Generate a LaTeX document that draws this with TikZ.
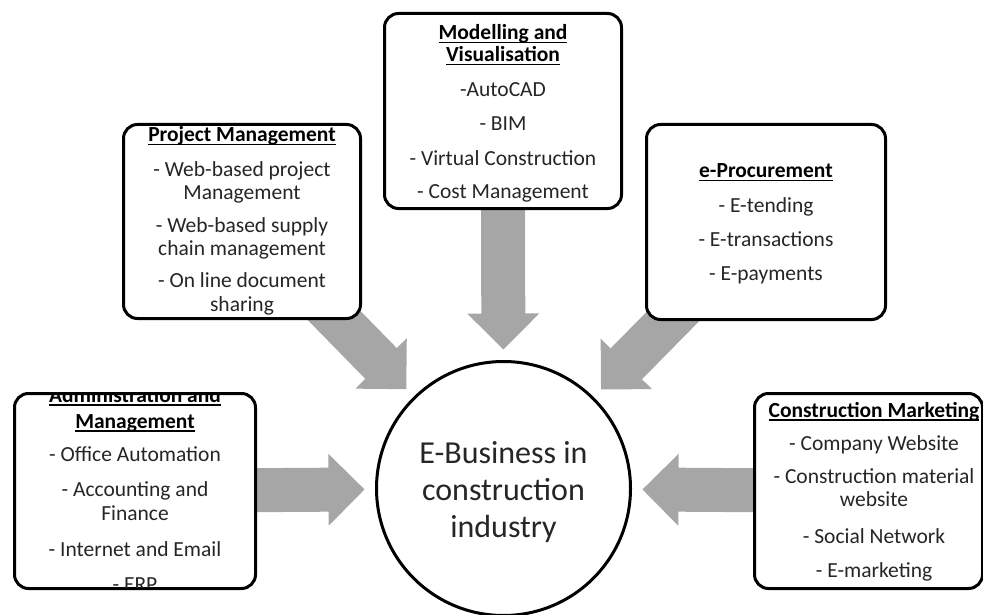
\documentclass[tikz,border=0pt]{standalone}
\usepackage{fontspec}
\setmainfont{Carlito}
\usetikzlibrary{calc,backgrounds}
\definecolor{arrowgray}{HTML}{A6A6A6}
\definecolor{txt}{HTML}{262626}
\newcommand\hd[1]{{\bfseries\color{black}\setbox0=\hbox{#1}\rlap{\rule[-3.5pt]{\wd0}{1.6pt}}\box0}}
% block arrow from the centre of node #1 towards the hub (ebiz)
\newcommand\blockarr[1]{%
  \fill[arrowgray]
    ($(#1.center)!22pt!90:(ebiz.center)$) --
    ($($(ebiz.center)!175pt!(#1.center)$)!22pt!-90:(#1.center)$) --
    ($($(ebiz.center)!175pt!(#1.center)$)!36pt!-90:(#1.center)$) --
    ($(ebiz.center)!139pt!(#1.center)$) --
    ($($(ebiz.center)!175pt!(#1.center)$)!36pt!90:(#1.center)$) --
    ($($(ebiz.center)!175pt!(#1.center)$)!22pt!90:(#1.center)$) --
    ($(#1.center)!22pt!-90:(ebiz.center)$) -- cycle;}
\begin{document}
\begin{tikzpicture}[x=1pt,y=-1pt,
  box/.style={draw=black, line width=3pt, fill=white, rounded corners=14pt, inner sep=0pt, outer sep=0pt},
  hub/.style={circle, draw=black, line width=3pt, fill=white, inner sep=0pt, outer sep=0pt, minimum size=254pt},
  line/.style={anchor=base, inner sep=0pt, font=\fontsize{21.5}{23}\selectfont, text=txt},
  hubline/.style={anchor=base, inner sep=0pt, font=\fontsize{32}{37}\selectfont, text=txt}
]
\useasboundingbox (0,0) rectangle (983,615);

% boxes and hub
\node[box, minimum width=237pt, minimum height=194pt] (pm) at (242,221.5) {};
\node[box, minimum width=237pt, minimum height=195pt] (mv) at (503,111) {};
\node[box, minimum width=239pt, minimum height=195pt] (ep) at (766,222) {};
\node[box, minimum width=241pt, minimum height=195pt] (adm) at (135,491) {};
\node[box, minimum width=228pt, minimum height=195pt] (cm) at (868.5,491) {};
\node[hub] (ebiz) at (503.5,488.5) {};

% hub text
\foreach \t/\y [count=\i] in {E-Business in/463, construction/500, industry/537}
  \node[hubline] (ebiz-\i) at (503.5,\y) {\t};

% Project Management
\begin{scope}
\clip[rounded corners=12.5pt] ([shift={(1.5,-1.5)}]pm.south west) rectangle ([shift={(-1.5,1.5)}]pm.north east);
\foreach \t/\y [count=\i] in {{\hd{Project Management}}/142, - Web-based project/177, Management/200, - Web-based supply/232, chain management/255, - On line document/287, sharing/311}
  \node[line] (pm-\i) at (242,\y) {\t};
\end{scope}

% Modelling and Visualisation
\begin{scope}
\clip[rounded corners=12.5pt] ([shift={(1.5,-1.5)}]mv.south west) rectangle ([shift={(-1.5,1.5)}]mv.north east);
\foreach \t/\y [count=\i] in {{\hd{Modelling and}}/40, {\hd{Visualisation}}/62, -AutoCAD/97, - BIM/131, - Virtual Construction/165, - Cost Management/198}
  \node[line] (mv-\i) at (503,\y) {\t};
\end{scope}

% e-Procurement
\begin{scope}
\clip[rounded corners=12.5pt] ([shift={(1.5,-1.5)}]ep.south west) rectangle ([shift={(-1.5,1.5)}]ep.north east);
\foreach \t/\y [count=\i] in {{\hd{e-Procurement}}/178, - E-tending/212, - E-transactions/246, - E-payments/280}
  \node[line] (ep-\i) at (766,\y) {\t};
\end{scope}

% Administration and Management
\begin{scope}
\clip[rounded corners=12.5pt] ([shift={(1.5,-1.5)}]adm.south west) rectangle ([shift={(-1.5,1.5)}]adm.north east);
\foreach \t/\y [count=\i] in {{\hd{Administration and}}/402, {\hd{Management}}/428, - Office Automation/461, - Accounting and/496, Finance/520, - Internet and Email/556, - ERP/591}
  \node[line] (adm-\i) at (135,\y) {\t};
\end{scope}

% Construction Marketing
\begin{scope}
\clip[rounded corners=12.5pt] ([shift={(1.5,-1.5)}]cm.south west) rectangle ([shift={(-1.5,1.5)}]cm.north east);
\foreach \t/\y [count=\i] in {{\hd{Construction Marketing}}/417, - Company Website/450, - Construction material/483, website/506, - Social Network/543, - E-marketing/577}
  \node[line] (cm-\i) at (874,\y) {\t};
\end{scope}

% block arrows
\begin{pgfonlayer}{background}
\blockarr{pm}
\blockarr{mv}
\blockarr{ep}
\blockarr{adm}
\blockarr{cm}
\end{pgfonlayer}
\end{tikzpicture}
\end{document}
